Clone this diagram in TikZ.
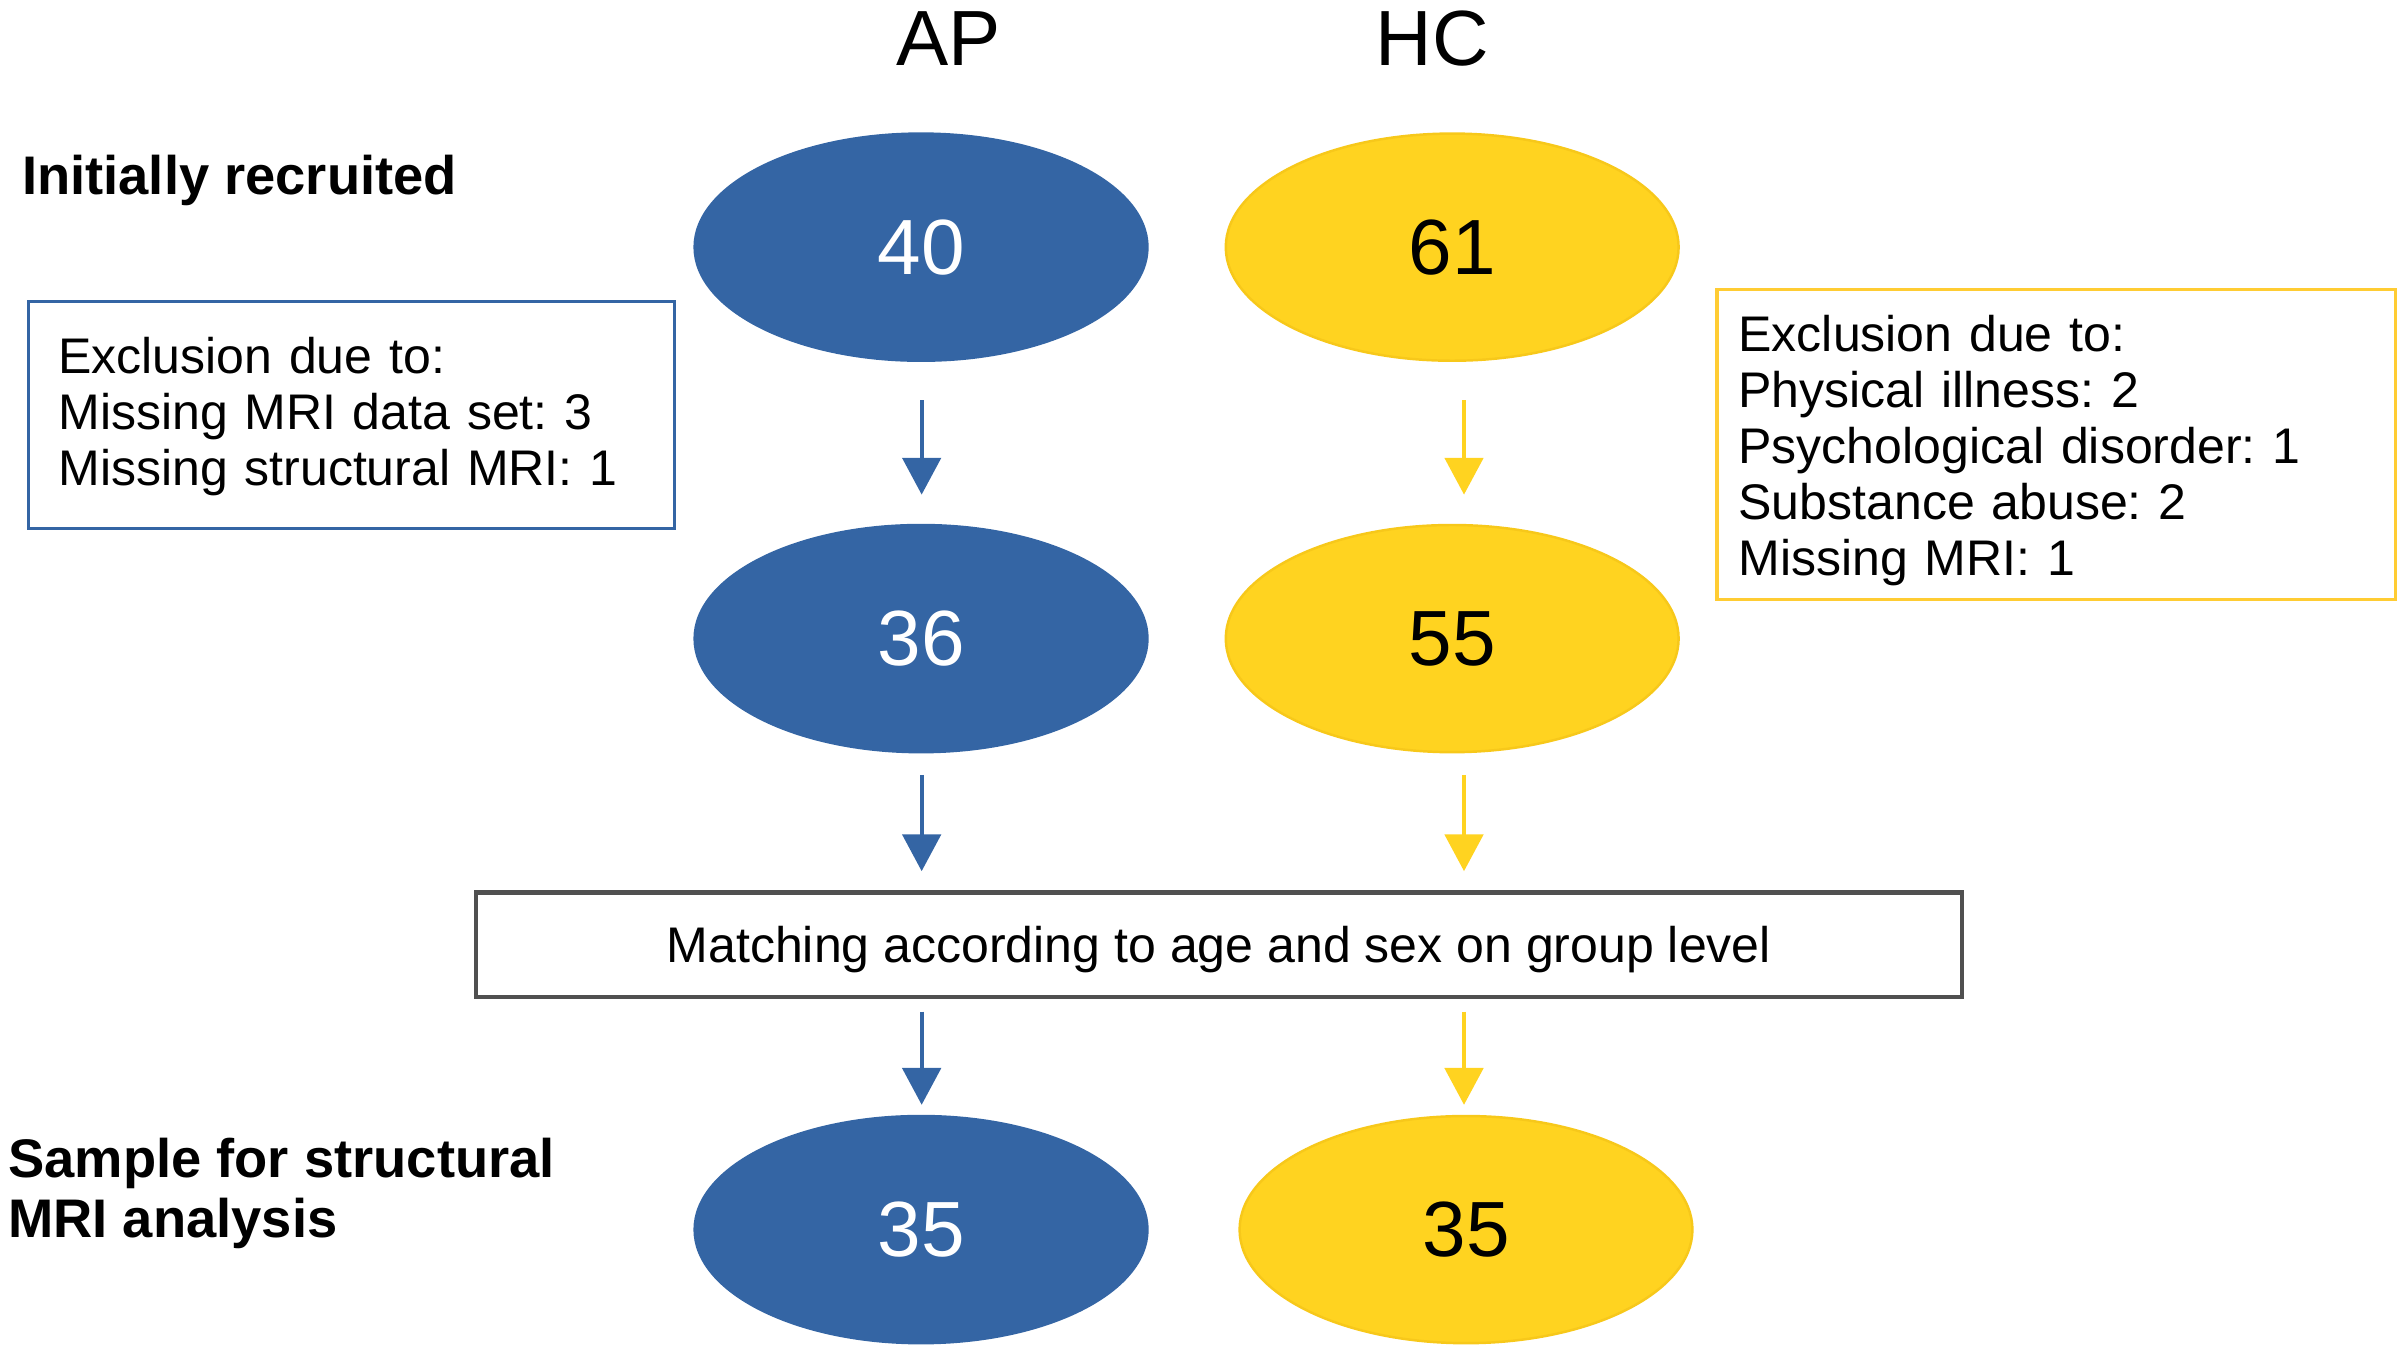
\documentclass[tikz,border=0pt]{standalone}
\usepackage{fontspec}
\setmainfont{Liberation Sans}
\usetikzlibrary{shapes.geometric,arrows.meta}
\definecolor{apblue}{HTML}{3465A4}
\definecolor{hcyellow}{HTML}{FFD320}
\definecolor{hcedge}{HTML}{F7C81A}
\definecolor{hcbox}{HTML}{FFCC33}
\definecolor{boxgray}{HTML}{505050}
\frenchspacing
\begin{document}
\begin{tikzpicture}[x=0.5pt,y=-0.5pt,
  numnode/.style={ellipse, minimum width=147.5pt, minimum height=74pt, inner sep=0pt,
    line width=0.8pt, font=\fontsize{25.5}{30}\selectfont},
  apnode/.style={numnode, fill=apblue, draw=apblue, text=white},
  hcnode/.style={numnode, fill=hcyellow, draw=hcedge, text=black},
  headtext/.style={font=\fontsize{25.5}{30}\selectfont, inner sep=0pt},
  rowlabel/.style={anchor=base west, inner sep=0pt, font=\bfseries\fontsize{17.7}{20}\selectfont},
  exbox/.style={rectangle, line width=1pt, align=left, inner ysep=0pt,
    font=\fontsize{16.3}{18.2}\selectfont},
  matchbox/.style={rectangle, draw=boxgray, line width=1.5pt, minimum width=484pt,
    minimum height=34pt, inner sep=0pt, text depth=0pt, font=\fontsize{16.3}{18.2}\selectfont},
  flowarrow/.style={line width=1.3pt, -{Triangle[width=12.5pt,length=12pt]}}
]
\useasboundingbox (0,0) rectangle (1568,883);

% column headings
\node[headtext] (tap) at (618,25) {AP};
\node[headtext] (thc) at (933,25) {HC};

% row labels
\node[rowlabel] (linit) at (14,127) {Initially recruited};
\node[rowlabel] (lsamp1) at (5,767) {Sample for structural};
\node[rowlabel] (lsamp2) at (5,806) {MRI analysis};

% ellipses
\node[apnode] (a40) at (600,161) {40};
\node[hcnode] (h61) at (946,161) {61};
\node[apnode] (a36) at (600,416) {36};
\node[hcnode] (h55) at (946,416) {55};
\node[apnode] (a35) at (600,801) {35};
\node[hcnode] (h35) at (955,801) {35};

% exclusion boxes
\node[exbox, draw=apblue, minimum width=210.5pt, minimum height=74pt,
  text width=191pt, inner xsep=9.75pt] (exap) at (229,270.5)
  {\rule{0pt}{12.8pt}Exclusion due to:\\Missing MRI data set: 3\\Missing structural MRI: 1};
\node[exbox, draw=hcbox, minimum width=221pt, minimum height=101pt,
  text width=207pt, inner xsep=7pt] (exhc) at (1339.5,289.5)
  {\rule{0pt}{15.8pt}Exclusion due to:\\Physical illness: 2\\Psychological disorder: 1\\Substance abuse: 2\\Missing MRI: 1};

% matching box
\node[matchbox] (match) at (794,615.5) {Matching according to age and sex on group level};

% arrow columns
\coordinate (apcol) at (600.4,0);
\coordinate (hccol) at (953.7,0);

% arrows
\draw[flowarrow, apblue, shorten <=12.5pt, shorten >=9.5pt] (a40.south -| apcol) -- (a36.north -| apcol);
\draw[flowarrow, hcyellow, shorten <=12.5pt, shorten >=9.5pt] (h61.south -| hccol) -- (h55.north -| hccol);
\draw[flowarrow, apblue, shorten <=7pt, shorten >=6.25pt] (a36.south -| apcol) -- (match.north -| apcol);
\draw[flowarrow, hcyellow, shorten <=7pt, shorten >=6.25pt] (h55.south -| hccol) -- (match.north -| hccol);
\draw[flowarrow, apblue, shorten <=4pt, shorten >=3.25pt] (match.south -| apcol) -- (a35.north -| apcol);
\draw[flowarrow, hcyellow, shorten <=4pt, shorten >=3.25pt] (match.south -| hccol) -- (h35.north -| hccol);
\end{tikzpicture}
\end{document}
